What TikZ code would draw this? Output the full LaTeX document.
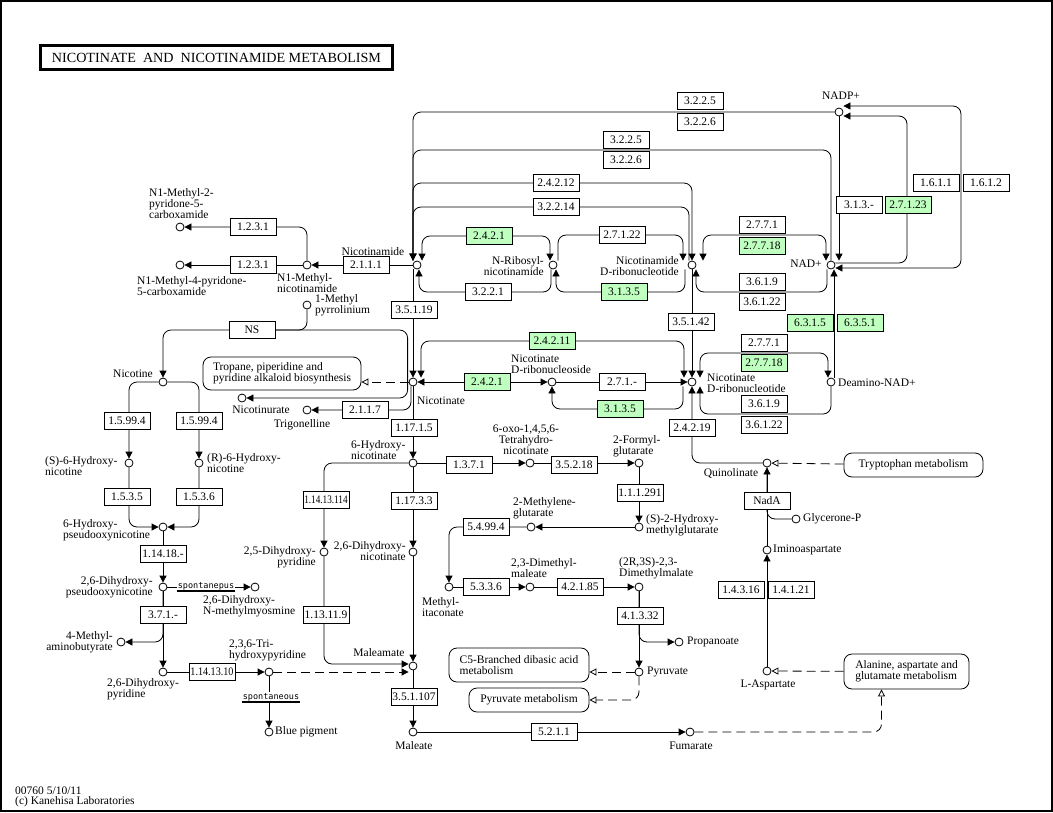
\documentclass[tikz,border=0pt]{standalone}
\usepackage{fontspec}
\usepackage{graphicx}
\setmainfont{Liberation Serif}
\newfontfamily\spfont{DejaVu Sans Mono}
\usetikzlibrary{arrows.meta}
\definecolor{kgreen}{HTML}{BFFFBF}
\pgfdeclarelayer{bg}
\pgfsetlayers{bg,main}

\begin{document}
\begin{tikzpicture}[x=1pt,y=-1pt,
  every node/.style={font=\fontsize{11.5}{11}\selectfont},
  cpd/.style={circle,draw,fill=white,line width=0.8pt,minimum size=8pt,inner sep=0pt},
  lbl/.style={inner sep=0pt},
  ec/.style={draw,fill=white,line width=0.8pt,minimum width=46pt,minimum height=17pt,inner sep=0pt},
  ecg/.style={ec,fill=kgreen},
  mapbox/.style={draw,fill=white,rounded corners=8pt,line width=0.8pt,inner sep=0pt,align=left},
  spont/.style={fill=white,inner sep=1pt,font=\spfont\fontsize{8.5}{8.5}\selectfont},
  link/.style={line width=0.8pt,rounded corners=8pt},
  dlink/.style={link,dash pattern=on 9pt off 5pt,-{Triangle[open,length=7pt,width=7pt]}},
  >={Triangle[length=7pt,width=7pt]}]
\useasboundingbox (0,0) rectangle (1053,812);
\draw[line width=2pt] (1,1) rectangle (1052,811);

\node[draw,line width=3pt,minimum width=352pt,minimum height=24pt,inner sep=0pt,
  font=\fontsize{14}{14}\selectfont] (title) at (216.5,57.5)
  {\scalebox{1.01}[1]{NICOTINATE\ \ AND\ \ NICOTINAMIDE METABOLISM}};
\node[lbl,anchor=west] (ver) at (15,791) {00760 5/10/11};
\node[lbl,anchor=west] (copy) at (15,802) {(c) Kanehisa Laboratories};

% compounds
\foreach \n/\x/\y in {nadp/839/112, nad/831/265, nam/417/265, nr/553/265, nmn/692/265,
  mnam/307/265, mtwo/180/227, mfour/180/265, mpyr/307/305, nic/163/382, nur/242/398,
  trig/307/410, na/413/382, nar/552/382, namn/692/382, dnad/831/382, quin/767/463,
  imas/767/550, glyp/796/519, asp/767/671, hnic/413/463, thn/530/463, fg/639/463,
  hmg/639/527, mg/531/527, mit/449/587, dmm/530/587, dmml/639/587, prop/679/642,
  pyr/639/672, dhn/413/552, dhpa/324/552, mlm/413/666, mal/413/732, fum/690/732,
  shn/129/463, rhn/199/463, hpn/163/527, dhpn/163/587, dhmm/255/587, mab/121/642,
  dhpb/163/672, thp/269/672, blue/269/732}
  \node[cpd] (\n) at (\x,\y) {};

% compound names
\foreach \n/\x/\y/\t in {mnam/277/283/{N1-Methyl-\\nicotinamide},
  mtwo/149/204/{N1-Methyl-2-\\pyridone-5-\\carboxamide},
  mfour/137/286/{N1-Methyl-4-pyridone-\\5-carboxamide},
  mpyr/315/305/{1-Methyl\\pyrrolinium}, nar/511/364/{Nicotinate\\D-ribonucleoside},
  namn/707/383/{Nicotinate\\D-ribonucleotide}, dnad/838/383/{Deamino-NAD+},
  imas/773/550/{Iminoaspartate}, glyp/803/519/{Glycerone-P},
  hnic/351/450/{6-Hydroxy-\\nicotinate}, fg/613/446/{2-Formyl-\\glutarate},
  hmg/646/525/{(S)-2-Hydroxy-\\methylglutarate}, mg/513/508/{2-Methylene-\\glutarate},
  mit/422/607/{Methyl-\\itaconate}, dmm/511/568/{2,3-Dimethyl-\\maleate},
  dmml/619/568/{(2R,3S)-2,3-\\Dimethylmalate}, prop/687/642/{Propanoate},
  pyr/647/672/{Pyruvate}, shn/45/466/{(S)-6-Hydroxy-\\nicotine},
  rhn/207/463/{(R)-6-Hydroxy-\\nicotine}, hpn/63/530/{6-Hydroxy-\\pseudooxynicotine},
  dhmm/203/606/{2,6-Dihydroxy-\\N-methylmyosmine}, dhpb/107/689/{2,6-Dihydroxy-\\pyridine},
  thp/229/650/{2,3,6-Tri-\\hydroxypyridine}, blue/275/732/{Blue pigment}}
  \node[lbl,anchor=west,align=left] (l\n) at (\x,\y) {\t};
\foreach \n/\x/\y/\t in {nr/544/266/{N-Ribosyl-\\nicotinamide},
  nmn/679/266/{Nicotinamide\\D-ribonucleotide}, dhn/406/551/{2,6-Dihydroxy-\\nicotinate},
  dhpa/316/557/{2,5-Dihydroxy-\\pyridine}, dhpn/153/587/{2,6-Dihydroxy-\\pseudooxynicotine},
  mab/113/642/{4-Methyl-\\aminobutyrate}}
  \node[lbl,anchor=east,align=right] (l\n) at (\x,\y) {\t};
\foreach \n/\x/\y/\t in {nadp/841/96/{NADP+}, nad/806/264/{NAD+}, nam/373/252/{Nicotinamide},
  nic/133/374/{Nicotine}, nur/261/410/{Nicotinurate}, trig/302/425/{Trigonelline},
  na/441/401/{Nicotinate}, quin/731/473/{Quinolinate}, asp/768/685/{L-Aspartate},
  thn/526/440/{6-oxo-1,4,5,6-\\Tetrahydro-\\nicotinate}, mlm/379/653/{Maleamate},
  mal/414/746/{Maleate}, fum/691/746/{Fumarate}}
  \node[lbl,align=center] (l\n) at (\x,\y) {\t};

% enzymes
\foreach \n/\x/\y/\t in {k1/700/101/3.2.2.5, k2/700/122/3.2.2.6, k3/626/140/3.2.2.5,
  k4/626/160/3.2.2.6, k5/556/183/2.4.2.12, k6/556/207/3.2.2.14, k7/488/292/3.2.2.1,
  k8/622/235/2.7.1.22, k9/762/225/2.7.7.1, k10/762/282/3.6.1.9, k11/762/302/3.6.1.22,
  k12/859/205/3.1.3.-, k13/936/183/1.6.1.1, k14/986/183/1.6.1.2, k15/253/227/1.2.3.1,
  k16/253/265/1.2.3.1, k17/366/265/2.1.1.1, k18/414/310/3.5.1.19, k19/252/330/NS,
  k20/691/322/3.5.1.42, k21/764/343/2.7.7.1, k22/764/404/3.6.1.9, k23/764/425/3.6.1.22,
  k24/622/382/2.7.1.-, k25/365/410/2.1.1.7, k26/414/428/1.17.1.5, k27/692/428/2.4.2.19,
  k28/127/421/1.5.99.4, k29/199/421/1.5.99.4, k30/127/497/1.5.3.5, k31/199/497/1.5.3.6,
  k32/469/465/1.3.7.1, k33/574/465/3.5.2.18, k34/640/493/1.1.1.291,
  k35/326/500/{\scalebox{0.8}[1]{1.14.13.114}}, k36/414/501/1.17.3.3, k37/767/501/NadA,
  k38/486/527/5.4.99.4, k39/163/554/1.14.18.-, k40/486/587/5.3.3.6, k41/580/587/4.2.1.85,
  k42/741/590/1.4.3.16, k43/791/590/1.4.1.21, k44/163/615/3.7.1.-, k45/326/615/1.13.11.9,
  k46/640/616/4.1.3.32, k47/212/672/{\scalebox{0.88}[1]{1.14.13.10}}, k48/414/697/3.5.1.107,
  k49/554/732/5.2.1.1}
  \node[ec] (\n) at (\x,\y) {\t};
\foreach \n/\x/\y/\t in {g1/489/236/2.4.2.1, g2/624/292/3.1.3.5, g3/762/246/2.7.7.18,
  g4/908/205/2.7.1.23, g5/810/323/6.3.1.5, g6/860/323/6.3.5.1, g7/552/341/2.4.2.11,
  g8/764/363/2.7.7.18, g9/487/382/2.4.2.1, g10/620/409/3.1.3.5}
  \node[ecg] (\n) at (\x,\y) {\t};

% other maps
\node[mapbox,minimum width=158pt,minimum height=33pt] (tropane) at (282,373.5)
  {Tropane, piperidine and\\pyridine alkaloid biosynthesis};
\node[mapbox,minimum width=139pt,minimum height=24pt] (trp) at (913.5,465) {Tryptophan metabolism};
\node[mapbox,minimum width=140pt,minimum height=34pt] (cfive) at (519,665)
  {C5-Branched dibasic acid\\metabolism};
\node[mapbox,minimum width=120pt,minimum height=24pt] (pyrmet) at (529,700) {Pyruvate metabolism};
\node[mapbox,minimum width=125pt,minimum height=35pt] (ala) at (906.5,671.5)
  {Alanine, aspartate and\\glutamate metabolism};

\node[spont] (spa) at (206,586) {spontanepus};
\node[spont] (spb) at (271,697) {spontaneous};
\draw[line width=1.5pt] (spa.south west) -- (spa.south east);
\draw[line width=1.5pt] (spb.south west) -- (spb.south east);

\begin{pgfonlayer}{bg}
% nicotinamide, NMN and NAD+
\draw[link,->] (nadp) -| ([xshift=-4pt]nam.north);
\draw[link,->] (nad) |- (413,150) -- ([xshift=-4pt]nam.north);
\draw[link,->] ([xshift=-4pt]nam.north) |- (556,183) -| (nmn);
\draw[link,->] ([xshift=-3pt]nmn.north) |- (413,207) -- ([xshift=-4pt]nam.north);
\draw[link,<->] ([xshift=5pt]nam.north) |- (489,236) -| ([xshift=-3pt]nr.north);
\draw[link,->] ([xshift=-2pt]nr.south) |- (488,292) -| ([xshift=2pt]nam.south);
\draw[link,->] ([xshift=5pt]nr.north) |- (622,235) -| ([xshift=-9pt]nmn.north);
\draw[link,->] ([xshift=-7pt]nmn.south) |- (624,292) -| ([xshift=3pt]nr.south);
\draw[link,<->] ([xshift=11pt]nmn.north) |- (762,235) -| ([xshift=-5pt]nad.north);
\draw[link,->] ([xshift=-4pt]nad.south) |- (762,292) -| ([xshift=4pt]nmn.south);
\draw[link,->] (nadp) -- ([xshift=8pt]nad.north);
\draw[link,->] ([yshift=2pt]nad.east) -- (907,263) |- ([yshift=-4pt]nadp.east);
\draw[link,<->] ([yshift=6pt]nadp.east) -- (961,106) |- ([yshift=-3pt]nad.east);
\draw[link,->] (nam) -- (mnam);
\draw[link,->] (mnam) -- (mfour);
\draw[link,->] (mnam) |- (mtwo);
\draw[link,->] ([xshift=-4pt]nam.south) -- (na);

% nicotinate and NaMN
\draw[link,<->] ([xshift=8pt]na.north) |- (552,341) -| ([xshift=-8pt]namn.north);
\draw[link,<->] (na) -- (nar);
\draw[link,->] (nar) -- (namn);
\draw[link,->] ([xshift=-9pt]namn.south) |- (620,409) -| (nar);
\draw[link,->] (nmn) -- (namn);
\draw[link,<->] ([xshift=8pt]namn.north) |- (764,353) -| ([xshift=-3pt]dnad.north);
\draw[link,->] (dnad) |- (764,414) -| ([xshift=8pt]namn.south);
\draw[link,->] ([xshift=3pt]dnad.north) -- ([xshift=3pt]nad.south);
\draw[link,->] (quin) -| (namn);
\draw[dlink] (trp) -- (quin);
\draw[link,->] (imas) -- (quin);
\draw[link] (glyp) -| (quin);
\draw[link,->] (asp) -- (imas);
\draw[dlink] (ala) -- (asp);
\draw[dlink] (fum) -| ([xshift=-25pt]ala.south);

% degradation of nicotinate
\draw[link,->] (na) -- (hnic);
\draw[link,->] (hnic) -- (dhn);
\draw[link,->] (dhn) -- (mlm);
\draw[link,->] (mlm) -- (mal);
\draw[link,->] (mal) -- (fum);
\draw[link,->] (hnic) -| (dhpa);
\draw[link,->] (dhpa) |- ([yshift=2pt]mlm.west);
\draw[link,dash pattern=on 9pt off 5pt,->] (thp) -- ([yshift=-6pt]mlm.west);
\draw[link,->] (hnic) -- (thn);
\draw[link,->] (thn) -- (fg);
\draw[link,->] (fg) -- (hmg);
\draw[link,->] (hmg) -- (mg);
\draw[link,->] (mg) -| (mit);
\draw[link,->] (mit) -- (dmm);
\draw[link,->] (dmm) -- (dmml);
\draw[link,->] (dmml) -- (pyr);
\draw[link,->] (dmml) |- (prop);
\draw[dlink] (pyr) -- (cfive.east |- pyr);
\draw[dlink] (pyr) |- (pyrmet);

% nicotine
\draw[dlink] (na) -- (tropane.east |- na);
\draw[link,->] ([xshift=-1pt]na.west) |- (163,330) -- (nic);
\draw[link,->] ([xshift=-1pt]na.west) |- (nur);
\draw[link] (mpyr) |- (k19);
\draw[link,->] ([xshift=-2pt]na.south) |- (trig);
\draw[link,->] (nic) -| (shn);
\draw[link,->] (nic) -| (rhn);
\draw[link,->] (shn) |- (hpn);
\draw[link,->] (rhn) |- (hpn);
\draw[link,->] (hpn) -- (dhpn);
\draw[link,->] (dhpn) -- (dhmm);
\draw[link,->] (dhpn) -- (dhpb);
\draw[link,->] (dhpn) |- (mab);
\draw[link,->] (dhpb) -- (thp);
\draw[link,->] (thp) -- (blue);
\end{pgfonlayer}
\end{tikzpicture}
\end{document}
